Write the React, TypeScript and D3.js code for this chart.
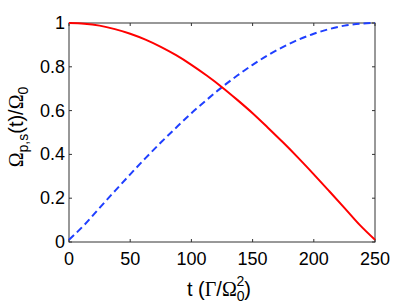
import * as d3 from 'd3';
import React, { useEffect, useRef } from 'react';

// values at t = 0, 12.5, 25, ... 250
const times = [0, 12.5, 25, 37.5, 50, 62.5, 75, 87.5, 100, 112.5, 125, 137.5, 150, 162.5, 175, 187.5, 200, 212.5, 225, 237.5, 250];
const pump = [1, 0.997, 0.988, 0.972, 0.951, 0.924, 0.891, 0.853, 0.809, 0.76, 0.707, 0.649, 0.588, 0.522, 0.454, 0.383, 0.309, 0.233, 0.156, 0.078, 0.01];
const stokes = [0.01, 0.078, 0.156, 0.233, 0.309, 0.383, 0.454, 0.522, 0.588, 0.649, 0.707, 0.76, 0.809, 0.853, 0.891, 0.924, 0.951, 0.972, 0.988, 0.997, 1];
const xTicks = [0, 50, 100, 150, 200, 250];
const yTicks = [0, 0.2, 0.4, 0.6, 0.8, 1];

const W = 415;
const H = 308;
const margin = { top: 23, right: 40, bottom: 66, left: 69 };
const sans = 'Liberation Sans, Arial, sans-serif';
const serif = 'Liberation Serif, Times New Roman, serif';

export default function App() {
  const ref = useRef<SVGSVGElement>(null);

  useEffect(() => {
    const svg = d3.select(ref.current);
    svg.selectAll('*').remove();
    const w = W - margin.left - margin.right;
    const h = H - margin.top - margin.bottom;
    const x = d3.scaleLinear().domain([0, 250]).range([0, w]);
    const y = d3.scaleLinear().domain([0, 1]).range([h, 0]);

    const g = svg.append('g').attr('transform', `translate(${margin.left},${margin.top})`);

    // box
    g.append('rect').attr('width', w).attr('height', h)
      .attr('fill', 'none').attr('stroke', '#333').attr('stroke-width', 1);

    // ticks, inward on all four sides
    const tl = 3;
    xTicks.forEach(t => {
      g.append('line').attr('x1', x(t)).attr('x2', x(t)).attr('y1', h).attr('y2', h - tl).attr('stroke', '#333');
      g.append('line').attr('x1', x(t)).attr('x2', x(t)).attr('y1', 0).attr('y2', tl).attr('stroke', '#333');
      g.append('text').attr('x', x(t)).attr('y', h + 23)
        .attr('text-anchor', 'middle').attr('font-family', sans).attr('font-size', 18)
        .text(d3.format('')(t));
    });
    yTicks.forEach(v => {
      g.append('line').attr('x1', 0).attr('x2', tl).attr('y1', y(v)).attr('y2', y(v)).attr('stroke', '#333');
      g.append('line').attr('x1', w).attr('x2', w - tl).attr('y1', y(v)).attr('y2', y(v)).attr('stroke', '#333');
      g.append('text').attr('x', -4).attr('y', y(v) + 6)
        .attr('text-anchor', 'end').attr('font-family', sans).attr('font-size', 18)
        .text(d3.format('')(v));
    });

    const line = d3.line<number>().x((_, i) => x(times[i])).y(d => y(d)).curve(d3.curveMonotoneX);

    g.append('path').datum(stokes).attr('d', line)
      .attr('fill', 'none').attr('stroke', '#1f3fff').attr('stroke-width', 2)
      .attr('stroke-dasharray', '7,4');
    g.append('path').datum(pump).attr('d', line)
      .attr('fill', 'none').attr('stroke', '#ff0000').attr('stroke-width', 2);

    // x label
    const xl = g.append('text').attr('x', w / 2 - 3).attr('y', h + 54)
      .attr('text-anchor', 'middle').attr('font-family', sans).attr('font-size', 20);
    xl.append('tspan').text('t (');
    xl.append('tspan').attr('font-family', serif).text('Γ');
    xl.append('tspan').text('/');
    xl.append('tspan').attr('font-family', serif).text('Ω');
    xl.append('tspan').attr('font-size', 14).attr('dy', 5).text('0');
    xl.append('tspan').attr('font-size', 14).attr('dx', -8).attr('dy', -15).text('2');
    xl.append('tspan').attr('dy', 10).text(')');

    // y label
    const yl = svg.append('text')
      .attr('transform', `translate(23,127) rotate(-90)`)
      .attr('text-anchor', 'middle').attr('font-family', sans).attr('font-size', 20);
    yl.append('tspan').attr('font-family', serif).text('Ω');
    yl.append('tspan').attr('font-size', 14).attr('dy', 5).text('p,s');
    yl.append('tspan').attr('dy', -5).text('(t)/');
    yl.append('tspan').attr('font-family', serif).text('Ω');
    yl.append('tspan').attr('font-size', 14).attr('dy', 5).text('0');
  }, []);

  return (
    <svg ref={ref} width={W} height={H} style={{ position: 'absolute', left: 0, top: 0, background: '#fff' }} />
  );
}
